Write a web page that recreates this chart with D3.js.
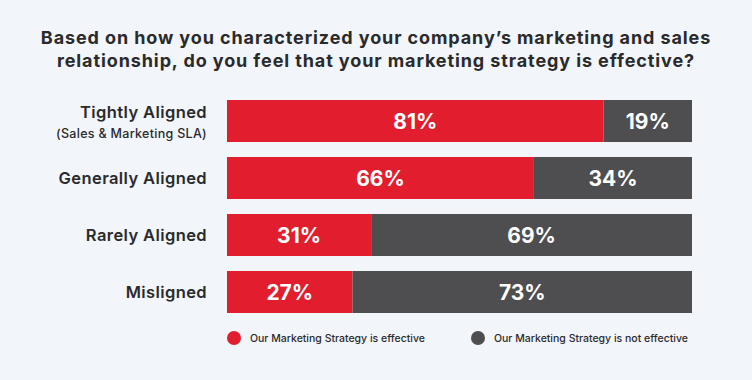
<!DOCTYPE html>
<html>
<head>
<meta charset="utf-8">
<script src="https://cdn.jsdelivr.net/npm/d3@7"></script>
<style>
  html, body { margin: 0; padding: 0; background: #f2f5f9; }
  svg { display: block; font-family: "Inter", "Open Sans", sans-serif; }
</style>
</head>
<body>
<div id="chart"></div>
<script>
const categories = ["Tightly Aligned", "Generally Aligned", "Rarely Aligned", "Misligned"];
const subLabels = ["(Sales & Marketing SLA)", "", "", ""];
const effective = [81, 66, 31, 27];
const notEffective = [19, 34, 69, 73];
const seriesNames = ["Our Marketing Strategy is effective", "Our Marketing Strategy is not effective"];
const colors = ["#e21d2e", "#4e4e50"];

const width = 752, height = 380;
const svg = d3.select("#chart").append("svg")
  .attr("width", width).attr("height", height);

svg.append("rect").attr("width", width).attr("height", height).attr("fill", "#f2f5f9");

// title
const title = svg.append("text")
  .attr("x", width / 2)
  .attr("text-anchor", "middle")
  .style("font-size", "18px")
  .style("font-weight", "700")
  .style("letter-spacing", "0.9px")
  .style("fill", "#2a2a2c");
title.append("tspan").attr("x", width / 2).attr("y", 44).text("Based on how you characterized your company’s marketing and sales");
title.append("tspan").attr("x", width / 2).attr("y", 67).text("relationship, do you feel that your marketing strategy is effective?");

const x = d3.scaleLinear().domain([0, 100]).range([227, 692]);
const y = d3.scaleBand().domain(categories).range([100, 313]).paddingInner(0.263).paddingOuter(0);

const rows = categories.map((c, i) => ({ cat: c, sub: subLabels[i], vals: [effective[i], notEffective[i]] }));

const g = svg.append("g");
rows.forEach(r => {
  let acc = 0;
  r.vals.forEach((v, j) => {
    g.append("rect")
      .attr("x", x(acc))
      .attr("y", y(r.cat))
      .attr("width", x(acc + v) - x(acc))
      .attr("height", y.bandwidth())
      .attr("fill", colors[j]);
    g.append("text")
      .attr("x", (x(acc) + x(acc + v)) / 2)
      .attr("y", y(r.cat) + y.bandwidth() / 2)
      .attr("dy", "0.36em")
      .attr("text-anchor", "middle")
      .style("font-size", "21px")
      .style("font-weight", "700")
      .style("fill", "#fff")
      .text(v + "%");
    acc += v;
  });

  const cy = y(r.cat) + y.bandwidth() / 2;
  g.append("text")
    .attr("x", 207)
    .attr("y", r.sub ? cy - 9 : cy)
    .attr("dy", "0.36em")
    .attr("text-anchor", "end")
    .style("font-size", "16.5px")
    .style("font-weight", "600")
    .style("letter-spacing", "0.4px")
    .style("fill", "#2a2a2c")
    .text(r.cat);
  if (r.sub) {
    g.append("text")
      .attr("x", 207)
      .attr("y", cy + 12)
      .attr("dy", "0.36em")
      .attr("text-anchor", "end")
      .style("font-size", "12.5px")
      .style("font-weight", "500")
      .style("letter-spacing", "0.3px")
      .style("fill", "#2a2a2c")
      .text(r.sub);
  }
});

// legend
const legendX = [234, 478];
seriesNames.forEach((name, i) => {
  const lg = svg.append("g").attr("transform", `translate(${legendX[i]},338)`);
  lg.append("circle").attr("r", 7).attr("fill", colors[i]);
  lg.append("text")
    .attr("x", 16)
    .attr("dy", "0.35em")
    .style("font-size", "10.5px")
    .style("font-weight", "500")
    .style("fill", "#2a2a2c")
    .text(name);
});
</script>
</body>
</html>
